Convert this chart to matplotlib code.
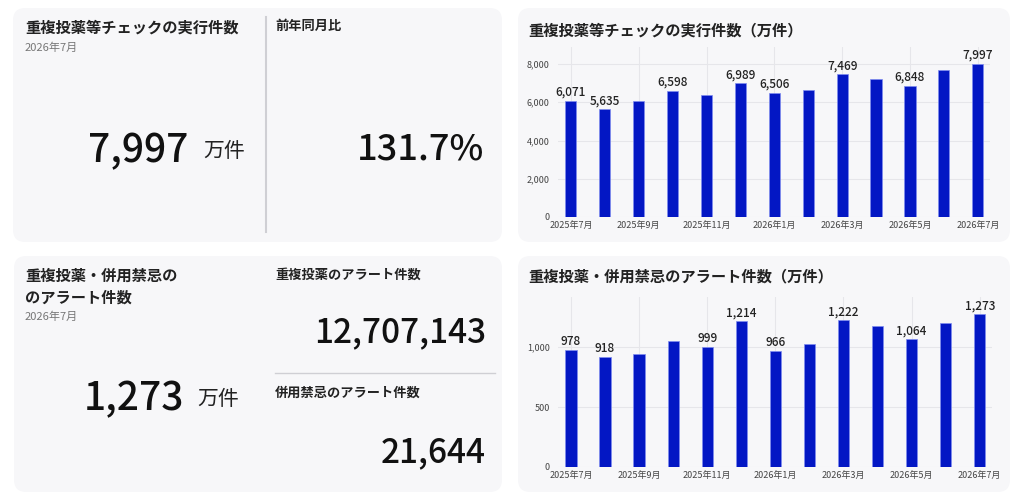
import matplotlib
matplotlib.use('Agg')
import matplotlib.pyplot as plt
from matplotlib.patches import FancyBboxPatch
from matplotlib.lines import Line2D

plt.rcParams['font.family'] = ['Noto Sans CJK JP', 'DejaVu Sans']

months = ['2025年7月', '2025年8月', '2025年9月', '2025年10月', '2025年11月', '2025年12月',
          '2026年1月', '2026年2月', '2026年3月', '2026年4月', '2026年5月', '2026年6月', '2026年7月']
check_counts = [6071, 5635, 6060, 6598, 6355, 6989, 6506, 6665, 7469, 7225, 6848, 7695, 7997]
alert_counts = [978, 918, 940, 1052, 999, 1214, 966, 1024, 1222, 1172, 1064, 1198, 1273]
check_shown = [0, 1, 3, 5, 6, 8, 10, 12]
alert_shown = [0, 1, 4, 5, 6, 8, 10, 12]

check_title = '重複投薬等チェックの実行件数'
alert_title = '重複投薬・併用禁忌の\nのアラート件数'
period = '2026年7月'
check_latest = '7,997'
yoy_label = '前年同月比'
yoy_value = '131.7%'
alert_latest = '1,273'
dup_label = '重複投薬のアラート件数'
dup_value = '12,707,143'
contra_label = '併用禁忌のアラート件数'
contra_value = '21,644'

W, H = 1024, 500
BAR = '#0317c4'
PANEL = '#f7f7f9'

fig = plt.figure(figsize=(W / 100, H / 100), dpi=100)
fig.patch.set_facecolor('white')


def fx(x):
    return x / W


def fy(y):
    return 1 - y / H


def panel(x0, y0, x1, y1):
    p = FancyBboxPatch((fx(x0), fy(y1)), fx(x1 - x0), (y1 - y0) / H,
                       boxstyle='round,pad=0,rounding_size=0.012',
                       transform=fig.transFigure, facecolor=PANEL, edgecolor='none',
                       mutation_aspect=W / H, zorder=-5)
    fig.patches.append(p)


def txt(x, y, s, **kw):
    fig.text(fx(x), fy(y), s, **kw)


def hline(x0, x1, y, color='#cfcfd4', lw=1.0):
    fig.lines.append(Line2D([fx(x0), fx(x1)], [fy(y), fy(y)], transform=fig.transFigure,
                            color=color, lw=lw))


def vline(x, y0, y1, color='#cfcfd4', lw=1.5):
    fig.lines.append(Line2D([fx(x), fx(x)], [fy(y0), fy(y1)], transform=fig.transFigure,
                            color=color, lw=lw))


panel(13, 8, 502, 242)
panel(518, 8, 1010, 242)
panel(14, 256, 502, 492)
panel(518, 256, 1010, 492)

big = dict(color='#111', ha='right', va='center', fontweight='medium')

# top-left KPI card
txt(25, 28, check_title, fontsize=11, fontweight='bold', color='#222', va='center')
txt(25, 48, period, fontsize=8, color='#777', va='center')
txt(188, 151, check_latest, fontsize=28, **big)
txt(203, 151, '万件', fontsize=15, color='#222', ha='left', va='center')
vline(266, 17, 232)
txt(275, 26, yoy_label, fontsize=9.5, fontweight='bold', color='#222', va='center')
txt(484, 149, yoy_value, fontsize=26, **big)

# bottom-left KPI card
txt(25, 287, alert_title, fontsize=11, fontweight='bold', color='#222', va='center',
    linespacing=1.45)
txt(25, 317, period, fontsize=8, color='#777', va='center')
txt(184, 399, alert_latest, fontsize=28, **big)
txt(197, 399, '万件', fontsize=15, color='#222', ha='left', va='center')
txt(275, 275, dup_label, fontsize=9.5, fontweight='bold', color='#222', va='center')
txt(486, 333, dup_value, fontsize=24, **big)
hline(275, 495, 373)
txt(275, 393, contra_label, fontsize=9.5, fontweight='bold', color='#222', va='center')
txt(486, 453, contra_value, fontsize=24, **big)


def bar_chart(rect, values, shown, yticks, ymax, title, title_y):
    x0, y0, x1, y1 = rect
    ax = fig.add_axes([fx(x0), fy(y1), fx(x1 - x0), (y1 - y0) / H])
    ax.set_zorder(2)
    ax.patch.set_visible(False)
    xs = list(range(len(values)))
    ax.bar(xs, values, width=0.33, color=BAR, edgecolor='#7f8cf0', linewidth=0.5, zorder=3)
    for i in shown:
        ax.annotate(f'{values[i]:,}', (xs[i], values[i]), xytext=(0, 1.5),
                    textcoords='offset points', ha='center', va='bottom',
                    fontsize=8.5, fontweight='medium', color='#222', zorder=4,
                    annotation_clip=False)
    ax.set_xlim(-0.38, len(values) - 1 + 0.36)
    ax.set_ylim(0, ymax)
    ax.set_yticks(yticks)
    ax.set_yticklabels([f'{t:,}' for t in yticks])
    ax.set_xticks(xs[::2])
    ax.set_xticklabels(months[::2])
    ax.tick_params(length=0, labelsize=6.5, colors='#444', pad=3)
    ax.tick_params(axis='y', pad=6)
    ax.grid(True, color='#e6e6ea', lw=0.8, zorder=0)
    ax.set_axisbelow(True)
    for s in ax.spines.values():
        s.set_visible(False)
    txt(528, title_y, title, fontsize=11, fontweight='bold', color='#222', va='center')
    return ax


bar_chart((558, 47, 990, 217), check_counts, check_shown, [0, 2000, 4000, 6000, 8000], 8889,
          check_title + '（万件）', 30)
bar_chart((558, 297, 992, 467), alert_counts, alert_shown, [0, 500, 1000], 1417,
          '重複投薬・併用禁忌のアラート件数（万件）', 276)

fig.savefig('out.png', dpi=100, facecolor='white')
